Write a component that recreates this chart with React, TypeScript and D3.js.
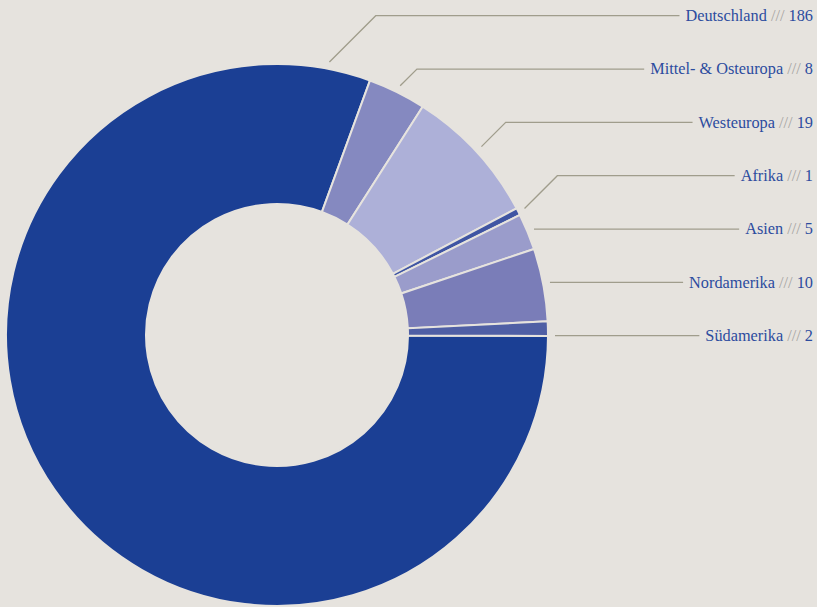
import React, { useEffect, useRef } from "react";
import * as d3 from "d3";

const categories = ["Deutschland", "Mittel- & Osteuropa", "Westeuropa", "Afrika", "Asien", "Nordamerika", "Südamerika"];
const values = [186, 8, 19, 1, 5, 10, 2];
const colors = ["#1b3f94", "#8589c0", "#adb0d8", "#3f55a3", "#9a9ccb", "#7a7db8", "#4f5fa5"];
const labelOrder = ["Deutschland", "Mittel- & Osteuropa", "Westeuropa", "Afrika", "Asien", "Nordamerika", "Südamerika"];

const W = 817;
const H = 607;
const BG = "#e6e3de";

export default function App() {
  const ref = useRef<SVGSVGElement | null>(null);

  useEffect(() => {
    const svg = d3.select(ref.current);
    svg.selectAll("*").remove();
    const cx = 277, cy = 335, R = 271, r0 = 131;
    const deg = Math.PI / 180;
    const start = 90.2 * deg;
    const pie = d3.pie<number>().sort(null).value((d) => d).startAngle(start).endAngle(start + 2 * Math.PI);
    const arcs = pie(values);
    const arc = d3.arc<d3.PieArcDatum<number>>().innerRadius(r0).outerRadius(R);

    const g = svg.append("g").attr("transform", `translate(${cx},${cy})`);
    g.selectAll("path.slice")
      .data(arcs)
      .join("path")
      .attr("class", "slice")
      .attr("d", arc as any)
      .attr("fill", (_, i) => colors[i])
      .attr("stroke", BG)
      .attr("stroke-width", 2);

    const yScale = d3.scalePoint<string>().domain(labelOrder).range([15.7, 335.7]);
    const rightX = 813;
    const anchorR = 278;

    const labels = svg.append("g");
    categories.forEach((c, i) => {
      const ly = yScale(c)!;
      const t = labels.append("text")
        .attr("x", rightX)
        .attr("y", ly + 5.3)
        .attr("text-anchor", "end")
        .attr("font-family", "'Liberation Serif', serif")
        .attr("font-size", 16.3)
        .attr("fill", "#2c4c9e");
      t.append("tspan").text(c + " ");
      t.append("tspan").attr("fill", "#a6a5a3").text("///");
      t.append("tspan").text(" " + values[i]);
      const tw = (t.node() as SVGTextElement).getComputedTextLength();
      const endX = rightX - tw - 6;

      const a = arcs[i];
      let ang = (a.startAngle + a.endAngle) / 2;
      if (i === 0) ang = a.endAngle - 9.2 * deg;
      let ax = cx + anchorR * Math.sin(ang);
      let ay = cy - anchorR * Math.cos(ang);
      const pts: [number, number][] = [];
      if (ay - ly > 10) {
        pts.push([ax, ay], [ax + (ay - ly), ly], [endX, ly]);
      } else {
        const dy = ly - cy;
        ax = cx + Math.sqrt(anchorR * anchorR - dy * dy);
        pts.push([ax, ly], [endX, ly]);
      }
      labels.append("path")
        .attr("d", d3.line()(pts)!)
        .attr("fill", "none")
        .attr("stroke", "#a09d8c")
        .attr("stroke-width", 1.3);
    });
  }, []);

  return (
    <svg ref={ref} width={W} height={H} style={{ display: "block", position: "absolute", left: 0, top: 0, background: BG }} />
  );
}
